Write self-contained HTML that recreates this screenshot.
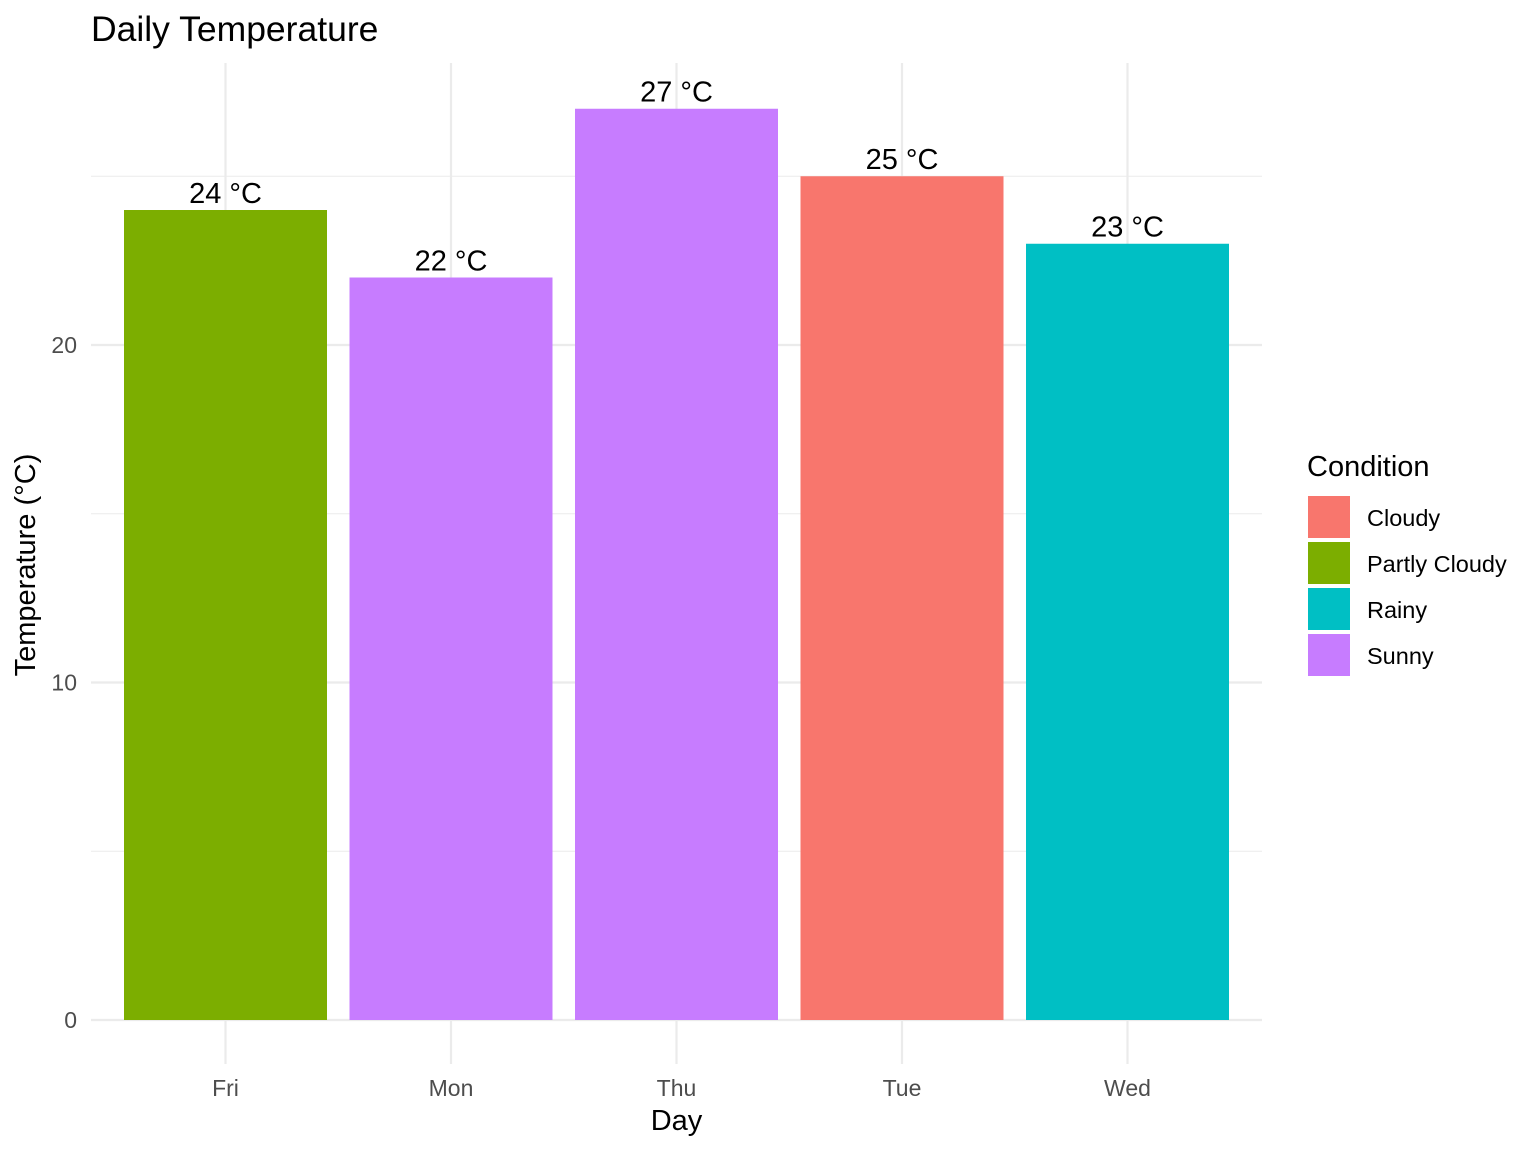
<!DOCTYPE html>
<html><head><meta charset="utf-8"><style>
html,body{margin:0;padding:0;background:#fff;}
svg{display:block;font-family:"Liberation Sans",sans-serif;}
</style></head><body>
<svg width="1536" height="1152" viewBox="0 0 1536 1152" xmlns="http://www.w3.org/2000/svg">
<rect width="1536" height="1152" fill="#fff"/>
<g stroke="#ebebeb" stroke-width="1.1">
<line x1="91" x2="1262" y1="851.25" y2="851.25"/>
<line x1="91" x2="1262" y1="513.75" y2="513.75"/>
<line x1="91" x2="1262" y1="176.25" y2="176.25"/>
</g>
<g stroke="#ebebeb" stroke-width="2.2">
<line x1="91" x2="1262" y1="1020" y2="1020"/>
<line x1="91" x2="1262" y1="682.5" y2="682.5"/>
<line x1="91" x2="1262" y1="345" y2="345"/>
<line x1="225.5" x2="225.5" y1="63" y2="1064"/>
<line x1="451" x2="451" y1="63" y2="1064"/>
<line x1="676.5" x2="676.5" y1="63" y2="1064"/>
<line x1="902" x2="902" y1="63" y2="1064"/>
<line x1="1127.5" x2="1127.5" y1="63" y2="1064"/>
</g>
<rect x="124" y="210" width="203" height="810" fill="#7CAE00"/>
<rect x="349.5" y="277.5" width="203" height="742.5" fill="#C77CFF"/>
<rect x="575" y="108.75" width="203" height="911.25" fill="#C77CFF"/>
<rect x="800.5" y="176.25" width="203" height="843.75" fill="#F8766D"/>
<rect x="1026" y="243.75" width="203" height="776.25" fill="#00BFC4"/>
<g font-size="29" fill="#000" text-anchor="middle">
<text x="225.5" y="203">24 °C</text>
<text x="451" y="270.5">22 °C</text>
<text x="676.5" y="101.5">27 °C</text>
<text x="902" y="169">25 °C</text>
<text x="1127.5" y="236.5">23 °C</text>
</g>
<g font-size="23" fill="#4d4d4d" text-anchor="end">
<text x="77" y="1028">0</text>
<text x="77" y="690.5">10</text>
<text x="77" y="353">20</text>
</g>
<g font-size="23" fill="#4d4d4d" text-anchor="middle">
<text x="225.5" y="1096">Fri</text>
<text x="451" y="1096">Mon</text>
<text x="676.5" y="1096">Thu</text>
<text x="902" y="1096">Tue</text>
<text x="1127.5" y="1096">Wed</text>
</g>
<text x="676.5" y="1130" font-size="29" text-anchor="middle">Day</text>
<text transform="translate(35,565) rotate(-90)" font-size="29" text-anchor="middle">Temperature (°C)</text>
<text x="91" y="41" font-size="35.5">Daily Temperature</text>
<text x="1307" y="476" font-size="29">Condition</text>
<rect x="1308" y="496" width="42" height="42" fill="#F8766D"/>
<rect x="1308" y="542" width="42" height="42" fill="#7CAE00"/>
<rect x="1308" y="588" width="42" height="42" fill="#00BFC4"/>
<rect x="1308" y="634" width="42" height="42" fill="#C77CFF"/>
<g font-size="23.5" fill="#000">
<text x="1367" y="526">Cloudy</text>
<text x="1367" y="572">Partly Cloudy</text>
<text x="1367" y="618">Rainy</text>
<text x="1367" y="664">Sunny</text>
</g>
</svg>
</body></html>
